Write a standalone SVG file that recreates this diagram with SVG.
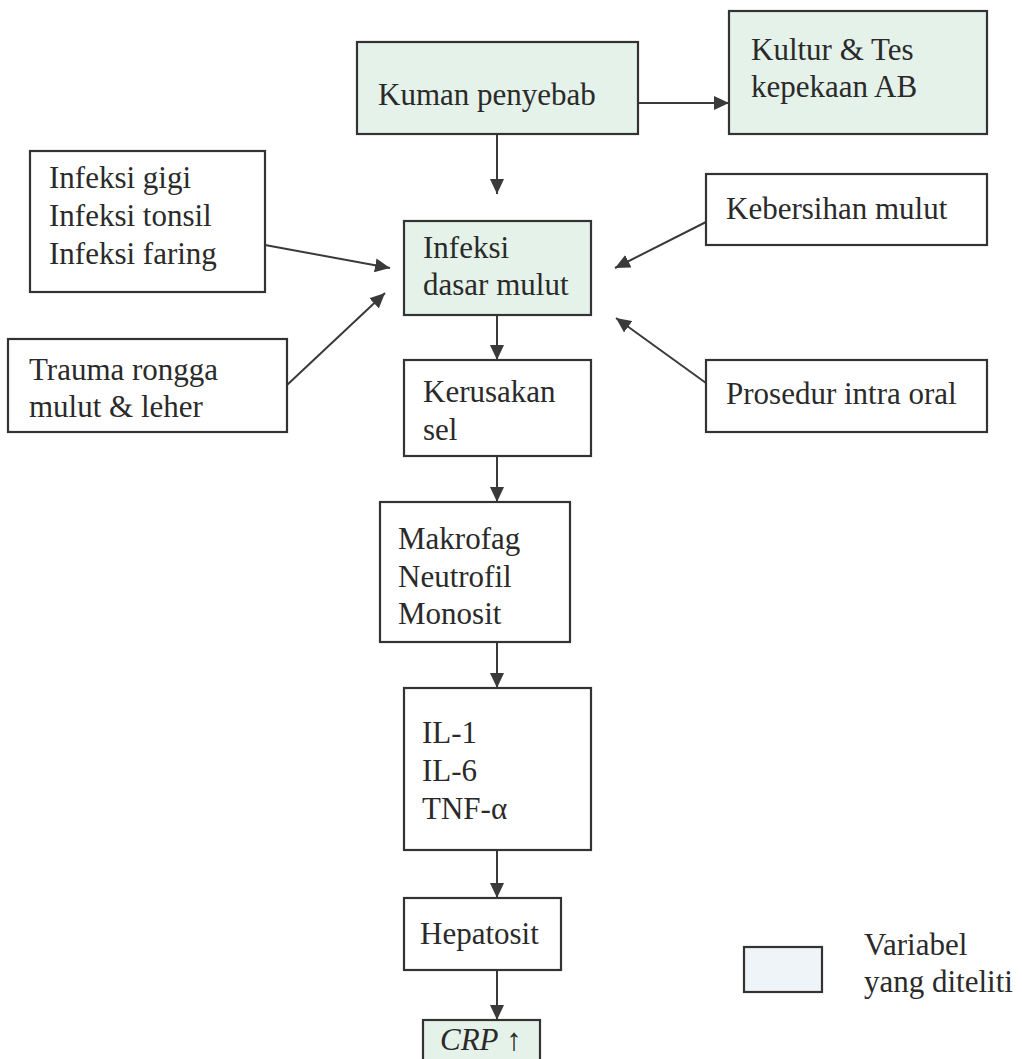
<svg xmlns="http://www.w3.org/2000/svg" width="1022" height="1059" viewBox="0 0 1022 1059">
<style>
.box{fill:#ffffff;stroke:#333333;stroke-width:2.2}
.var{fill:#e5f2e9;stroke:#333333;stroke-width:2.2}
.leg{fill:#eef4f7;stroke:#333333;stroke-width:2.2}
.t{font-family:"Liberation Serif","Times New Roman",serif;font-size:31px;fill:#2a2a2a}
.c{stroke:#3a3a3a;stroke-width:2;fill:none;marker-end:url(#ah)}
</style>
<defs>
<marker id="ah" markerUnits="userSpaceOnUse" markerWidth="16" markerHeight="14" refX="15" refY="7" orient="auto">
<path d="M0,0 L15,7 L0,14 Z" fill="#3a3a3a"/>
</marker>
</defs>
<rect width="1022" height="1059" fill="#ffffff"/>
<g id="connectors">
<line class="c" x1="638" y1="103" x2="729" y2="103"/>
<line class="c" x1="497" y1="134" x2="497" y2="194"/>
<line class="c" x1="265" y1="245" x2="390" y2="268"/>
<line class="c" x1="287" y1="385" x2="385" y2="293"/>
<line class="c" x1="706" y1="222" x2="615" y2="268"/>
<line class="c" x1="706" y1="383" x2="616" y2="318"/>
<line class="c" x1="497" y1="315" x2="497" y2="360"/>
<line class="c" x1="497" y1="456" x2="497" y2="502"/>
<line class="c" x1="497" y1="642" x2="497" y2="688"/>
<line class="c" x1="497" y1="850" x2="497" y2="898"/>
<line class="c" x1="497" y1="970" x2="497" y2="1020"/>
</g>
<g id="kuman">
<rect class="var" x="357" y="42" width="281" height="92"/>
<text class="t" x="378" y="105">Kuman penyebab</text>
</g>
<g id="kultur">
<rect class="var" x="729" y="11" width="258" height="123"/>
<text class="t" x="751" y="60">Kultur &amp; Tes</text>
<text class="t" x="751" y="97">kepekaan AB</text>
</g>
<g id="infeksi-lain">
<rect class="box" x="30" y="151" width="235" height="141"/>
<text class="t" x="49" y="188">Infeksi gigi</text>
<text class="t" x="49" y="226">Infeksi tonsil</text>
<text class="t" x="49" y="264">Infeksi faring</text>
</g>
<g id="trauma">
<rect class="box" x="8" y="339" width="279" height="93"/>
<text class="t" x="29" y="380">Trauma rongga</text>
<text class="t" x="29" y="417">mulut &amp; leher</text>
</g>
<g id="infeksi-dasar">
<rect class="var" x="404" y="221" width="187" height="94"/>
<text class="t" x="423" y="258">Infeksi</text>
<text class="t" x="423" y="295">dasar mulut</text>
</g>
<g id="kebersihan">
<rect class="box" x="706" y="174" width="281" height="71"/>
<text class="t" x="726" y="219">Kebersihan mulut</text>
</g>
<g id="prosedur">
<rect class="box" x="706" y="360" width="281" height="72"/>
<text class="t" x="726" y="404">Prosedur intra oral</text>
</g>
<g id="kerusakan">
<rect class="box" x="404" y="360" width="187" height="96"/>
<text class="t" x="423" y="402">Kerusakan</text>
<text class="t" x="423" y="440">sel</text>
</g>
<g id="makrofag">
<rect class="box" x="380" y="502" width="190" height="140"/>
<text class="t" x="398" y="549">Makrofag</text>
<text class="t" x="398" y="587">Neutrofil</text>
<text class="t" x="398" y="624">Monosit</text>
</g>
<g id="il">
<rect class="box" x="404" y="688" width="187" height="162"/>
<text class="t" x="422" y="743">IL-1</text>
<text class="t" x="422" y="781">IL-6</text>
<text class="t" x="422" y="819">TNF-α</text>
</g>
<g id="hepatosit">
<rect class="box" x="404" y="898" width="157" height="72"/>
<text class="t" x="420" y="944">Hepatosit</text>
</g>
<g id="crp">
<rect class="var" x="423" y="1020" width="117" height="50"/>
<text class="t" x="440" y="1050"><tspan font-style="italic">CRP</tspan> ↑</text>
</g>
<g id="legend">
<rect class="leg" x="744" y="947" width="78" height="45"/>
<text class="t" x="864" y="955">Variabel</text>
<text class="t" x="864" y="992">yang diteliti</text>
</g>
</svg>
